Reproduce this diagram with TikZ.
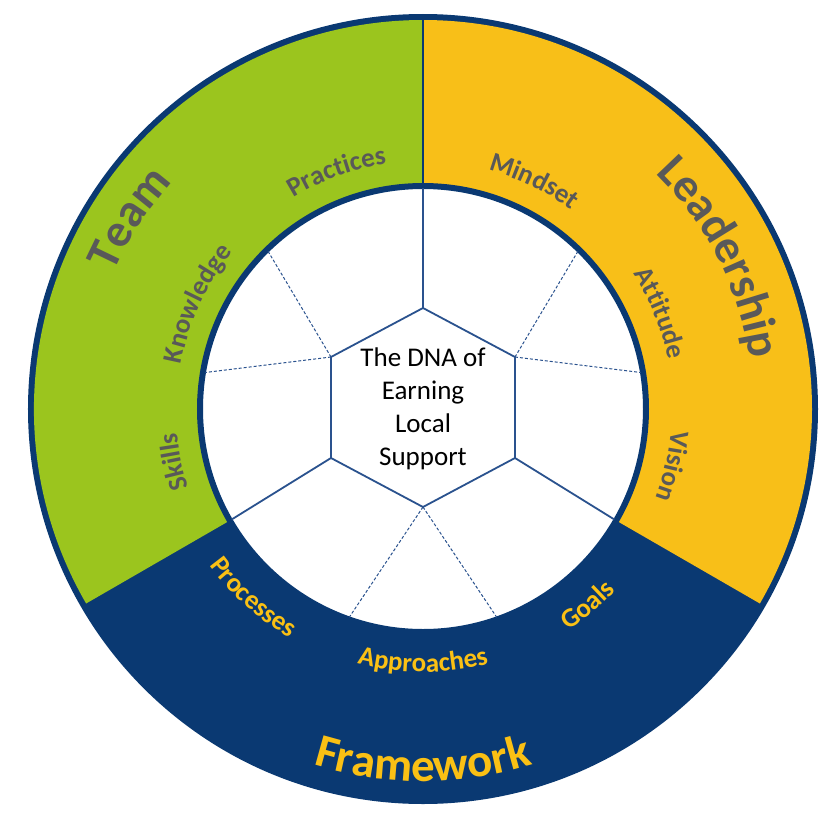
\documentclass[tikz,border=0pt]{standalone}
\usepackage{fontspec}
\setmainfont{Carlito}
\usetikzlibrary{decorations.text}
\definecolor{dblue}{RGB}{10,57,114}
\definecolor{tgreen}{RGB}{155,197,30}
\definecolor{tyellow}{RGB}{248,191,24}
\definecolor{tgray}{RGB}{89,89,89}
\definecolor{lyellow}{RGB}{250,192,20}
\definecolor{hexblue}{RGB}{42,82,142}
\newcommand\bigfnt{\bfseries\fontsize{47}{47}\selectfont}
\newcommand\smfnt{\bfseries\fontsize{27}{27}\selectfont}
\tikzset{
  hexline/.style={draw=hexblue, line width=1.8pt, line join=round},
  dashline/.style={draw=hexblue, line width=1pt, dash pattern=on 3pt off 2pt},
  cwlabel/.style n args={3}{decorate, decoration={text along path, text align=center, text={#3}}},
}
\begin{document}
\begin{tikzpicture}[x=1pt,y=1pt]
\useasboundingbox (-423,-411) rectangle (417,409);
% outer disk (framework colour + outline)
\fill[dblue] (0,0) circle[radius=395pt];
% team sector
\fill[tgreen] (90:223) arc[start angle=90, end angle=210, radius=223pt] -- (210:389) arc[start angle=210, end angle=90, radius=389pt] -- cycle;
% leadership sector
\fill[tyellow] (-30:223) arc[start angle=-30, end angle=90, radius=223pt] -- (90:389) arc[start angle=90, end angle=-30, radius=389pt] -- cycle;
\coordinate (divIn) at (90:224);
\coordinate (divOut) at (90:390);
\draw[dblue, line width=1.3pt] (divIn) -- (divOut);
% inner disk
\fill[white] (0,0) circle[radius=221pt];
\draw[dblue, line width=6pt] (0,0) circle[radius=223pt];
% hexagon
\coordinate (hT) at (0,101);
\coordinate (hUR) at (92,52);
\coordinate (hLR) at (92,-49);
\coordinate (hB) at (0,-98);
\coordinate (hLL) at (-92,-49);
\coordinate (hUL) at (-92,52);
\coordinate (sT) at (90:221);
\coordinate (sLL) at (210:221);
\coordinate (sLR) at (330:221);
\coordinate (d1) at (134.5:221);
\coordinate (d2) at (170.5:221);
\coordinate (d3) at (45.5:221);
\coordinate (d4) at (9.5:221);
\coordinate (d5) at (250.5:221);
\coordinate (d6) at (289.5:221);
\draw[dashline] (hUL) -- (d1);
\draw[dashline] (hUL) -- (d2);
\draw[dashline] (hUR) -- (d3);
\draw[dashline] (hUR) -- (d4);
\draw[dashline] (hB) -- (d5);
\draw[dashline] (hB) -- (d6);
\draw[hexline] (hT) -- (hUR) -- (hLR) -- (hB) -- (hLL) -- (hUL) -- cycle;
\draw[hexline] (hT) -- (sT);
\draw[hexline] (hLL) -- (sLL);
\draw[hexline] (hLR) -- (sLR);
\node[align=center, font=\fontsize{27}{33}\selectfont, text=black] (ctr) at (0,0) {The DNA of\\Earning\\Local\\Support};
% big labels
\path[decorate, decoration={text along path, text align=center, text={|\bigfnt\color{tgray}|Team}}]
  (147+40:338) arc[start angle=187, end angle=107, radius=338pt];
\path[decorate, decoration={text along path, text align=center, text={|\bigfnt\color{tgray}|Leadership}}]
  (27+45:331) arc[start angle=72, end angle=-18, radius=331pt];
\path[decorate, decoration={text along path, text align=center, text={|\bigfnt\color{lyellow}|Framework}}]
  (230:372) arc[start angle=230, end angle=310, radius=372pt];
% small labels, upper (clockwise)
\path[decorate, decoration={text along path, text align=center, text={|\smfnt\color{tgray}|Practices}}]
  (150:248) arc[start angle=150, end angle=70, radius=248pt];
\path[decorate, decoration={text along path, text align=center, text={|\smfnt\color{tgray}|Knowledge}}]
  (195:246) arc[start angle=195, end angle=115, radius=246pt];
\path[decorate, decoration={text along path, text align=center, text={|\smfnt\color{tgray}|Skills}}]
  (232:247) arc[start angle=232, end angle=152, radius=247pt];
\path[decorate, decoration={text along path, text align=center, text={|\smfnt\color{tgray}|Mindset}}]
  (104:248) arc[start angle=104, end angle=24, radius=248pt];
\path[decorate, decoration={text along path, text align=center, text={|\smfnt\color{tgray}|Attitude}}]
  (62:250) arc[start angle=62, end angle=-18, radius=250pt];
\path[decorate, decoration={text along path, text align=center, text={|\smfnt\color{tgray}|Vision}}]
  (27:249) arc[start angle=27, end angle=-53, radius=249pt];
% small labels, lower (counter-clockwise)
\path[decorate, decoration={text along path, text align=center, text={|\smfnt\color{lyellow}|Processes}}]
  (188:265) arc[start angle=188, end angle=268, radius=265pt];
\path[decorate, decoration={text along path, text align=center, text={|\smfnt\color{lyellow}|Approaches}}]
  (230:263) arc[start angle=230, end angle=310, radius=263pt];
\path[decorate, decoration={text along path, text align=center, text={|\smfnt\color{lyellow}|Goals}}]
  (270:265) arc[start angle=270, end angle=350, radius=265pt];
\end{tikzpicture}
\end{document}
